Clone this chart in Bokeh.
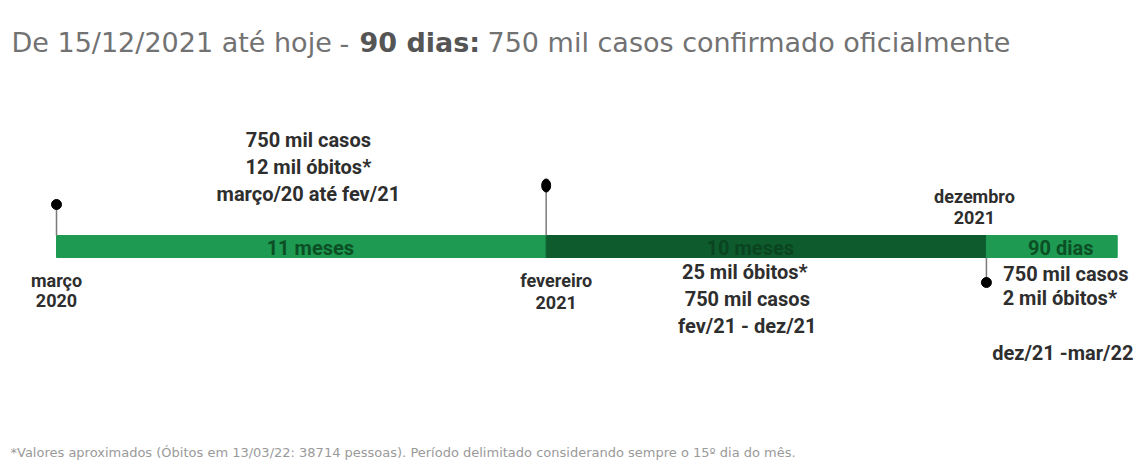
from datetime import datetime, timedelta
import pandas as pd
from bokeh.plotting import figure
from bokeh.models import Range1d, Label, ColumnDataSource
from bokeh.core.properties import value
from bokeh.embed import file_html
from bokeh.resources import INLINE

# ---------------- data ----------------
title_pre = "De 15/12/2021 até hoje"
title_dash = "-"
title_bold = "90 dias:"
title_post = "750 mil casos confirmado oficialmente"
footnote = ("*Valores aproximados (Óbitos em 13/03/22: 38714 pessoas). "
            "Período delimitado considerando sempre o 15º dia do mês.")

period_start = ["2020-03-15", "2021-02-15", "2021-12-15"]
period_end = ["2021-02-15", "2021-12-15", "2022-03-15"]
period_label = ["11 meses", "10 meses", "90 dias"]
period_casos = ["750 mil casos", "750 mil casos", "750 mil casos"]
period_obitos = ["12 mil óbitos*", "25 mil  óbitos*", "2 mil óbitos*"]
period_range = ["março/20 até fev/21", "fev/21 - dez/21", "dez/21 -mar/22"]

milestone_dates = ["2020-03-15", "2021-02-15", "2021-12-15"]
milestone_month = ["março", "fevereiro", "dezembro"]
milestone_year = ["2020", "2021", "2021"]

# ---------------- styling / layout ----------------
W, H = 1140, 474
origin = pd.Timestamp(period_start[0])
px_per_day = 1.453
origin_px = 56
x0 = origin - pd.Timedelta(days=origin_px / px_per_day)
x1 = origin + pd.Timedelta(days=(W - origin_px) / px_per_day)

bar_colors = ["#1e9a52", "#0e5c2e", "#1e9a52"]
bar_text_colors = ["#0c4f25", "#0a4420", "#0c4f25"]
FONT = value("Roboto")
TXT = "#2e2e2e"
BAR_Y = 246

p = figure(width=W, height=H, x_axis_type="datetime",
           x_range=Range1d(x0, x1), y_range=Range1d(H, 0),
           output_backend="svg", toolbar_location=None, min_border=0,
           background_fill_color="white", border_fill_color="white")
p.axis.visible = False
p.grid.visible = False
p.outline_line_color = None

ps = [pd.Timestamp(d) for d in period_start]
pe = [pd.Timestamp(d) for d in period_end]
mid = [a + (b - a) / 2 for a, b in zip(ps, pe)]

bars = ColumnDataSource(dict(left=ps, right=pe, y=[BAR_Y] * 3, color=bar_colors))
p.hbar(y="y", left="left", right="right", height=22, color="color", source=bars)

label_dx = [9, -16, 9]
for m, lab, tc, dx in zip(mid, period_label, bar_text_colors, label_dx):
    p.text(x=[m], y=[BAR_Y + 1], text=[lab], text_color=tc, x_offset=dx,
           text_align="center", text_baseline="middle", text_font=FONT,
           text_font_style="bold", text_font_size="20px")

# pins
md = [pd.Timestamp(d) for d in milestone_dates]
pin_top = [204, 185, 257]
pin_bot = [235, 235, 282]
p.segment(x0=md, y0=pin_top, x1=md, y1=pin_bot, line_color="#7a7a7a", line_width=1.5)
p.scatter(x=[md[0], md[2]], y=[pin_top[0], pin_bot[2]], size=10, color="black")
p.ellipse(x=[md[1]], y=[pin_top[1]], width=9, height=13, width_units="screen",
          height_units="screen", color="black")


def txt(x, y, s, dx=0, size="20px", align="center"):
    p.text(x=[x], y=[y], text=[s], x_offset=dx, text_align=align,
           text_baseline="middle", text_font=FONT, text_font_style="bold",
           text_font_size=size, text_color=TXT)


# period annotations
txt(mid[0], 139, period_casos[0], dx=7)
txt(mid[0], 166, period_obitos[0], dx=7)
txt(mid[0], 193, period_range[0], dx=7)

txt(mid[1], 271, period_obitos[1], dx=-19)
txt(mid[1], 298, period_casos[1], dx=-19)
txt(mid[1], 325, period_range[1], dx=-19)

txt(mid[2], 273, period_casos[2], dx=14)
txt(mid[2], 297, period_obitos[2], dx=8)
txt(mid[2], 352, period_range[2], dx=11)

# milestone labels
ml_pos = [(0, 280, 300), (10, 280, 302), (-12, 196, 217)]
for d, mth, yr, (dx, y1, y2) in zip(md, milestone_month, milestone_year, ml_pos):
    txt(d, y1, mth, dx=dx, size="18px")
    txt(d, y2, yr, dx=dx, size="18px")

# title
TFONT = "DejaVu Sans"
TS = "27px"
for xx, s, col, style in [(11, title_pre, "#727272", "normal"),
                          (339, title_dash, "#727272", "normal"),
                          (359, title_bold, "#555555", "bold"),
                          (487, title_post, "#727272", "normal")]:
    p.add_layout(Label(x=xx, y=H - 42, x_units="screen", y_units="screen", text=s,
                       text_font=TFONT, text_font_size=TS, text_color=col,
                       text_font_style=style, text_baseline="alphabetic"))
p.add_layout(Label(x=10, y=H - 452, x_units="screen", y_units="screen", text=footnote,
                   text_font=TFONT, text_font_size="13px", text_color="#9a9a9a",
                   text_baseline="middle"))

open("out.html", "w").write(file_html(p, INLINE))
